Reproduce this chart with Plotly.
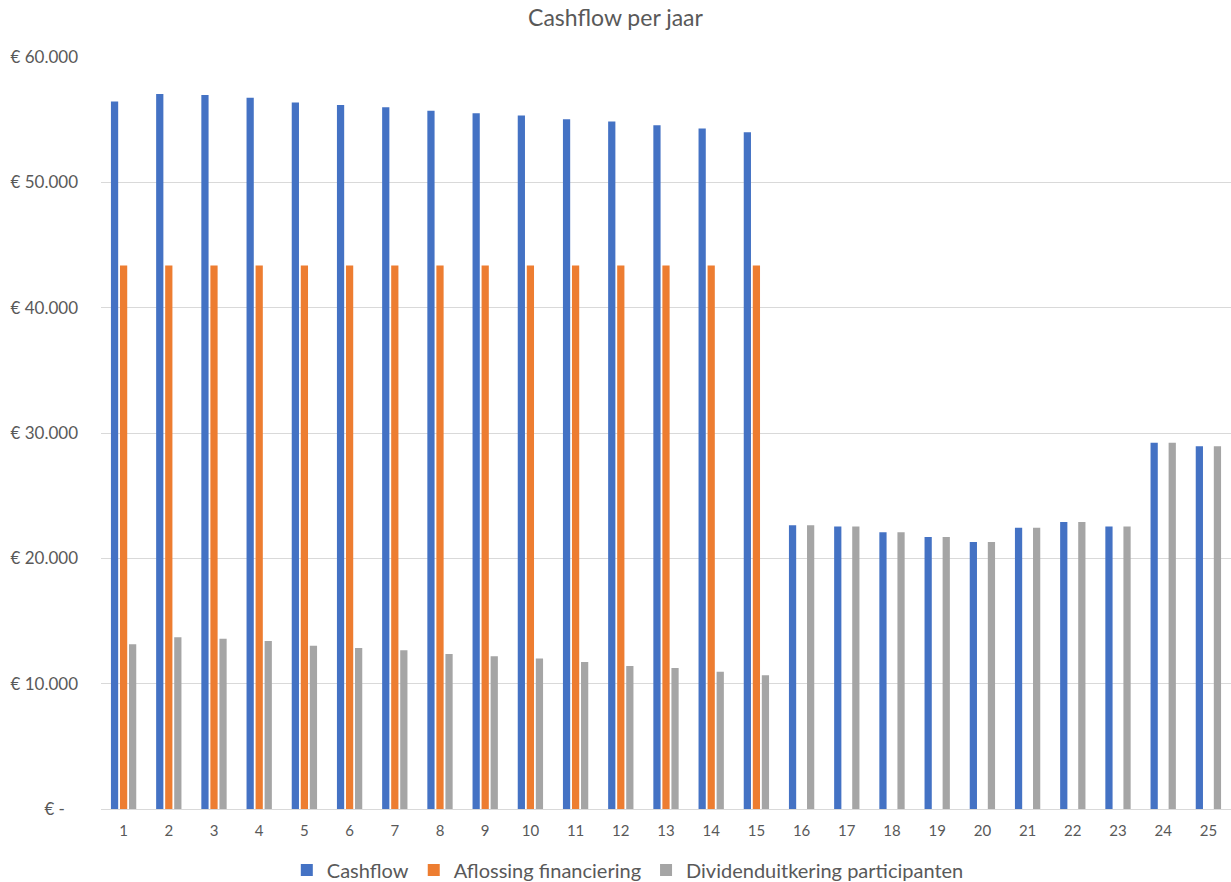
import plotly.graph_objects as go

years = [str(i) for i in range(1, 26)]
cashflow = [56450, 57040, 56960, 56740, 56370, 56180, 56000, 55710, 55520, 55330,
            55040, 54850, 54560, 54290, 54000,
            22640, 22530, 22080, 21710, 21310, 22450, 22900, 22530, 29230, 28940]
aflossing = [43360] * 15 + [None] * 10
dividend = [13140, 13700, 13590, 13410, 13030, 12850, 12660, 12370, 12190, 12000,
            11730, 11410, 11250, 10960, 10670,
            22640, 22530, 22080, 21710, 21310, 22450, 22900, 22530, 29230, 28940]

y_ticks = [0, 10000, 20000, 30000, 40000, 50000, 60000]
y_labels = ["€ -\u00a0\u00a0\u00a0", "€ 10.000", "€ 20.000", "€ 30.000", "€ 40.000", "€ 50.000", "€ 60.000"]

FONT = "Lato, Open Sans, sans-serif"
TXT = "#595959"

fig = go.Figure()
fig.add_trace(go.Bar(x=years, y=cashflow, name="Cashflow", marker=dict(color="#4472C4", line=dict(width=0))))
fig.add_trace(go.Bar(x=years, y=aflossing, name="Aflossing financiering", marker=dict(color="#ED7D31", line=dict(width=0))))
fig.add_trace(go.Bar(x=years, y=dividend, name="Dividenduitkering participanten", marker=dict(color="#A5A5A5", line=dict(width=0))))

fig.update_layout(
    width=1231, height=882,
    barmode="group", bargap=0.4, bargroupgap=0.2,
    plot_bgcolor="white", paper_bgcolor="white",
    margin=dict(l=101, r=0, t=57, b=73),
    font=dict(family=FONT, color=TXT, size=15),
    title=dict(text="Cashflow per jaar", x=0.5, xanchor="center", y=1 - 18 / 882, yanchor="middle",
               font=dict(size=23, color=TXT, family=FONT)),
    showlegend=True,
    legend=dict(orientation="h", xref="container", yref="container", x=0.51, xanchor="center",
                y=1 - 870 / 882, yanchor="middle", font=dict(size=20, color=TXT),
                itemwidth=30, traceorder="normal"),
    hovermode=False,
)
fig.update_xaxes(type="category", showgrid=False, showline=True, linecolor="#D9D9D9", linewidth=1,
                 ticks="", tickfont=dict(size=15, color=TXT), ticklabelstandoff=8)
fig.update_yaxes(range=[0, 60000], tickvals=y_ticks, ticktext=y_labels, showgrid=True,
                 gridcolor="#D9D9D9", gridwidth=1, zeroline=False, showline=False,
                 tickfont=dict(size=17, color=TXT), ticklabelstandoff=22)

fig.write_html("out.html", config={"displayModeBar": False},
               post_script="document.body.style.margin='0';")
